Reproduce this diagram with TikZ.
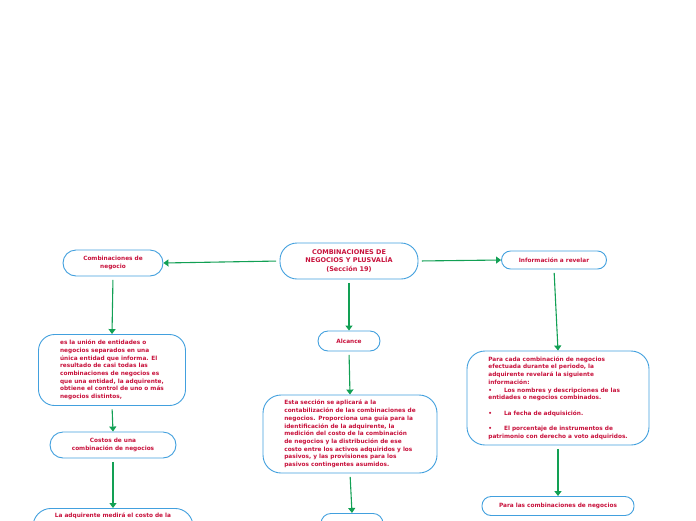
\documentclass[tikz,border=0pt]{standalone}
\usepackage{fontspec}
\newfontfamily\mapfont{DejaVu Sans}
\usetikzlibrary{arrows.meta}

\definecolor{mapred}{RGB}{200,18,60}
\definecolor{mapblue}{RGB}{66,160,222}
\definecolor{mapgreen}{RGB}{18,160,84}

\tikzset{
  tbox/.style={draw=mapblue, line width=0.9pt, fill=white, text=mapred,
    font=\mapfont\bfseries\fontsize{5.8}{7.7}\selectfont, align=center, inner sep=2pt},
  link/.style={mapgreen, line width=1.1pt, shorten <=3.5pt,
    -{Triangle[length=5pt,width=7pt]}}
}

\begin{document}
\begin{tikzpicture}[x=1pt, y=-1pt]
  \useasboundingbox (0,0) rectangle (696,520);
  \clip (0,0) rectangle (696,520);

  % centro del mapa
  \node[tbox, rounded corners=17pt, minimum width=138pt, minimum height=36pt,
    font=\mapfont\bfseries\fontsize{6.5}{8.4}\selectfont] (tema) at (349,261)
    {COMBINACIONES DE\\NEGOCIOS Y PLUSVALÍA\\(Sección 19)};

  % rama izquierda
  \node[tbox, rounded corners=13pt, minimum width=100pt, minimum height=26pt] (combi) at (113,263)
    {Combinaciones de\\negocio};
  \node[tbox, rounded corners=16pt, minimum width=147pt, minimum height=71pt, align=left] (defin) at (112,370)
    {es la unión de entidades o\\negocios separados en una\\única entidad que informa. El\\resultado de casi todas las\\combinaciones de negocios es\\que una entidad, la adquirente,\\obtiene el control de uno o más\\negocios distintos,};
  \node[tbox, rounded corners=13pt, minimum width=126pt, minimum height=26pt] (costos) at (113,445)
    {Costos de una\\combinación de negocios};
  \node[tbox, rounded corners=18pt, minimum width=160pt, anchor=north, text height=5pt, text depth=40pt, inner ysep=4pt] (medida) at (113,508)
    {La adquirente medirá el costo de la};

  % rama central
  \node[tbox, rounded corners=10pt, minimum width=62pt, minimum height=20pt] (alcance) at (349,341)
    {Alcance};
  \node[tbox, rounded corners=18pt, minimum width=174pt, minimum height=78pt, align=left] (aplica) at (350,434)
    {Esta sección se aplicará a la\\contabilización de las combinaciones de\\negocios. Proporciona una guía para la\\identificación de la adquirente, la\\medición del costo de la combinación\\de negocios y la distribución de ese\\costo entre los activos adquiridos y los\\pasivos, y las provisiones para los\\pasivos contingentes asumidos.};
  \node[tbox, rounded corners=10pt, minimum width=62pt, minimum height=40pt, anchor=north] (abajo) at (352,513) {};

  % rama derecha
  \node[tbox, rounded corners=9pt, minimum width=105pt, minimum height=18pt] (revela) at (554,260)
    {Información a revelar};
  \node[tbox, rounded corners=18pt, minimum width=182pt, minimum height=94pt, align=left] (detalle) at (558,398)
    {Para cada combinación de negocios\\efectuada durante el periodo, la\\adquirente revelará la siguiente\\información:\\
     •\hspace{12pt}Los nombres y descripciones de las\\entidades o negocios combinados.\\[7.7pt]
     •\hspace{12pt}La fecha de adquisición.\\[7.7pt]
     •\hspace{12pt}El porcentaje de instrumentos de\\patrimonio con derecho a voto adquiridos.};
  \node[tbox, rounded corners=9pt, minimum width=152pt, minimum height=19pt] (paralas) at (558,506)
    {Para las combinaciones de negocios};

  \draw[link] (tema.west) -- (combi.east);
  \draw[link] (tema.east) -- (revela.west);
  \draw[link] (tema.south) -- (alcance.north);
  \draw[link] (combi.south) -- (defin.north);
  \draw[link] (defin.south) -- (costos.north);
  \draw[link] (costos.south) -- (medida.north);
  \draw[link] (alcance.south) -- (aplica.north);
  \draw[link] (aplica.south) -- (abajo.north);
  \draw[link] (revela.south) -- (detalle.north);
  \draw[link] (detalle.south) -- (paralas.north);
\end{tikzpicture}
\end{document}
